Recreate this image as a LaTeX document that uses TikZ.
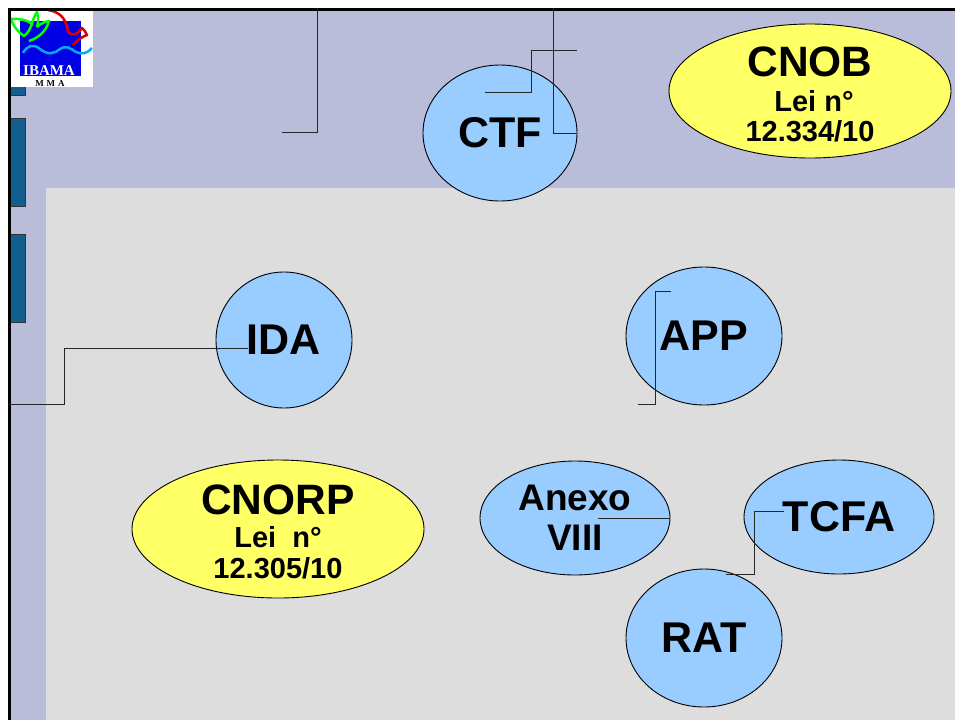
\documentclass[tikz,border=0pt]{standalone}
\usepackage{fontspec}
\setmainfont{Liberation Sans}
\newfontfamily\logofont{Liberation Serif}
\usetikzlibrary{shapes.geometric}
\definecolor{slidebg}{HTML}{B9BDD9}
\definecolor{panelbg}{HTML}{DDDDDD}
\definecolor{tabblue}{HTML}{125E8E}
\definecolor{bubble}{HTML}{99CCFF}
\definecolor{lawyellow}{HTML}{FFFF66}
\tikzset{
	sigla/.style={draw, ellipse, line width=0.9pt, inner sep=0pt, fill=bubble, font=\fontsize{43}{48}\selectfont\bfseries, align=center},
	lei/.style={sigla, fill=lawyellow},
	leititle/.style={inner sep=0pt, font=\fontsize{42.5}{44}\selectfont\bfseries},
	leitext/.style={inner sep=0pt, font=\fontsize{29}{30}\selectfont\bfseries},
	tab/.style={draw=black!80, fill=tabblue, line width=1pt},
	wire/.style={line width=1pt, black!85},
	leaf/.style={green, line width=2.5pt, line join=round}
}
\begin{document}
\begin{tikzpicture}[x=1pt, y=-1pt]
		\useasboundingbox (0,0) rectangle (955,720);
		\fill[white] (0,0) rectangle (955,720);
		\fill[slidebg] (9,9) rectangle (955,720);
		\fill[panelbg] (46,188) rectangle (955,720);
		% abas
		\draw[tab] (9,80) rectangle (25,95);
		\draw[tab] (9,118) rectangle (25,206);
		\draw[tab] (9,234) rectangle (25,322);
		% logo
		\fill[white] (9,9) rectangle (93,87);
		\fill[blue!90!black] (20,21) rectangle (81,76);
		\draw[leaf] (11,19) .. controls (20,18) and (29,21) .. (32,24) .. controls (30,29) and (28,33) .. (24,36) .. controls (18,32) and (13,26) .. (11,19);
		\draw[leaf] (32,24) .. controls (33,19) and (35,15) .. (37,12) .. controls (39,18) and (38,23) .. (37,27);
		\draw[leaf] (29,41) .. controls (38,38) and (46,32) .. (49,21) .. controls (44,22) and (40,24) .. (37,27);
		\draw[red!85!black, line width=2.5pt, line join=round] (48,10) .. controls (60,12) and (66,18) .. (68,32) .. controls (72,37) and (78,34) .. (82,28) .. controls (84,30) and (86,32) .. (87,35) .. controls (82,37) and (77,40) .. (73,45);
		\draw[cyan, line width=2.5pt] (23,53) .. controls (27,46) and (33,43) .. (40,49) .. controls (47,55) and (55,54) .. (60,49) .. controls (66,45) and (70,48) .. (76,52) .. controls (82,55) and (88,53) .. (92,48);
		\node[white, inner sep=0pt, font=\logofont\bfseries\fontsize{15}{15}\selectfont] (ibama) at (49,71) {IBAMA};
		\node[inner sep=0pt, font=\logofont\bfseries\fontsize{9}{9}\selectfont] (mma) at (50,84) {M\,\,M\,\,A};
		% moldura
		\draw[line width=3pt] (9,720) -- (9,9) -- (955,9);
		% siglas
		\node[sigla, minimum width=154pt, minimum height=136pt] (ctf) at (500,133) {CTF};
		\node[sigla, minimum width=136pt, minimum height=136pt] (ida) at (284,340) {\raisebox{-2pt}{IDA}};
		\node[sigla, minimum width=156pt, minimum height=138pt] (app) at (704,336) {\raisebox{-1.5pt}{APP}};
		\node[sigla, minimum width=190pt, minimum height=114pt] (tcfa) at (839,517) {\raisebox{-1.5pt}{TCFA}};
		\node[sigla, minimum width=156pt, minimum height=138pt] (rat) at (704,638) {\raisebox{-1pt}{RAT}};
		\node[sigla, minimum width=190pt, minimum height=114pt, font=\fontsize{37}{40}\selectfont\bfseries] (anexo) at (575,518) {Anexo\\VIII};
		\node[lei, minimum width=282pt, minimum height=134pt] (cnob) at (810,91) {};
		\node[lei, minimum width=292pt, minimum height=138pt] (cnorp) at (278,529) {};
		% textos das leis
		\node[leititle] (cnobtitle) at (810,62) {CNOB};
		\node[leitext] (cnoblei) at (814,101) {Lei n°};
		\node[leitext] (cnobnum) at (810,131) {12.334/10};
		\node[leititle] (cnorptitle) at (278,500) {CNORP};
		\node[leitext] (cnorplei) at (278,537) {Lei\ \ n°};
		\node[leitext] (cnorpnum) at (278,568) {12.305/10};
		% pontas soltas
		\coordinate (ctfa) at (282,132);
		\coordinate (ctfb) at (317,9);
		\coordinate (ctfc) at (485,92);
		\coordinate (ctfd) at (577,50);
		\coordinate (ctfe) at (553,9);
		\coordinate (idaa) at (9,404);
		\coordinate (idab) at (248,348);
		\coordinate (appa) at (671,291);
		\coordinate (appb) at (638,404);
		\coordinate (anexoa) at (598,518);
		\coordinate (tcfaa) at (784,511);
		\coordinate (rata) at (726,574);
		% linhas
		\draw[wire] (ctfa) -| (ctfb);
		\draw[wire] (ctfc) -| (531,50) -- (ctfd);
		\draw[wire] (ctf.east) -| (ctfe);
		\draw[wire] (idaa) -| (64,348) -- (idab);
		\draw[wire] (appa) -| (655,404) -- (appb);
		\draw[wire] (anexoa) -- (anexo.east);
		\draw[wire] (tcfaa) -| (754,574) -- (rata);
	\end{tikzpicture}
\end{document}
